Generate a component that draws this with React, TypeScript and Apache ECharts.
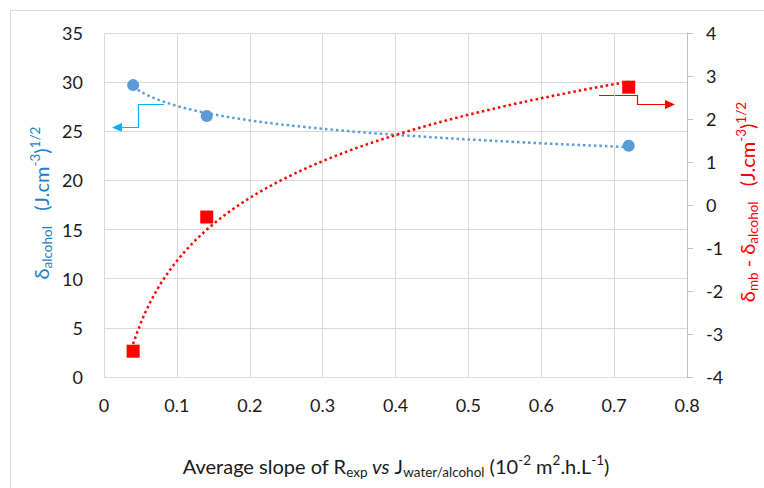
import React, { useEffect, useRef } from "react";
import * as echarts from "echarts";

const slopes = [0.04, 0.141, 0.72];
const deltaAlcohol = [29.7, 26.55, 23.53];
const deltaDiff = [-3.4, -0.28, 2.74];
const xTicks = { min: 0, max: 0.8, interval: 0.1 };
const yLeftTicks = { min: 0, max: 35, interval: 5 };
const yRightTicks = { min: -4, max: 4, interval: 1 };

// logarithmic trendline (least squares on ln x), as in the original spreadsheet
function logFit(xs: number[], ys: number[]) {
  const lx = xs.map((v) => Math.log(v));
  const mx = lx.reduce((a, b) => a + b, 0) / lx.length;
  const my = ys.reduce((a, b) => a + b, 0) / ys.length;
  let sxy = 0, sxx = 0;
  lx.forEach((v, i) => { sxy += (v - mx) * (ys[i] - my); sxx += (v - mx) * (v - mx); });
  const b = sxy / sxx;
  const a = my - b * mx;
  const x0 = Math.min(...xs), x1 = Math.max(...xs);
  const pts: number[][] = [];
  const n = 120;
  for (let i = 0; i <= n; i++) {
    const x = x0 + ((x1 - x0) * i) / n;
    pts.push([x, a + b * Math.log(x)]);
  }
  return pts;
}

const FONT = "Lato, 'Open Sans', sans-serif";

export default function App() {
  const ref = useRef<HTMLDivElement>(null);
  useEffect(() => {
    const chart = echarts.init(ref.current!, null, { renderer: "svg" });
    const blue = "#5B9BD5";
    const red = "#FF0000";
    const titleBlue = "#1E80C8";
    const grid = "#D9D9D9";
    const axisLabel = { color: "#1a1a1a", fontSize: 18, fontFamily: FONT };
    const richBase = (color: string, size: number, subSize: number) => ({
      d: { fontSize: size, fontFamily: FONT, fill: color, lineHeight: 26, verticalAlign: "middle" },
      sub: { fontSize: subSize, fontFamily: FONT, fill: color, lineHeight: 26, verticalAlign: "bottom" },
      sup: { fontSize: subSize, fontFamily: FONT, fill: color, lineHeight: 26, verticalAlign: "top" },
    });
    chart.setOption({
      animation: false,
      backgroundColor: "#ffffff",
      grid: { left: 104, right: 77, top: 33, bottom: 111, containLabel: false },
      xAxis: {
        type: "value",
        min: xTicks.min,
        max: xTicks.max,
        interval: xTicks.interval,
        axisLine: { show: true, lineStyle: { color: grid } },
        axisTick: { show: false },
        axisLabel: { ...axisLabel, margin: 19 },
        splitLine: { show: true, lineStyle: { color: grid } },
      },
      yAxis: [
        {
          type: "value",
          min: yLeftTicks.min,
          max: yLeftTicks.max,
          interval: yLeftTicks.interval,
          axisLine: { show: false },
          axisTick: { show: false },
          axisLabel: { ...axisLabel, margin: 21 },
          splitLine: { show: true, lineStyle: { color: grid } },
        },
        {
          type: "value",
          position: "right",
          min: yRightTicks.min,
          max: yRightTicks.max,
          interval: yRightTicks.interval,
          axisLine: { show: true, lineStyle: { color: "#BFBFBF" } },
          axisTick: { show: true, length: 6, lineStyle: { color: "#BFBFBF" } },
          axisLabel: { ...axisLabel, margin: 19 },
          splitLine: { show: false },
        },
      ],
      series: [
        {
          type: "line",
          yAxisIndex: 0,
          data: logFit(slopes, deltaAlcohol),
          showSymbol: false,
          symbol: "none",
          lineStyle: { color: blue, width: 2.5, type: [2.5, 3] },
          z: 2,
        },
        {
          type: "line",
          yAxisIndex: 1,
          data: logFit(slopes, deltaDiff),
          showSymbol: false,
          symbol: "none",
          lineStyle: { color: red, width: 2.5, type: [2.5, 3] },
          z: 2,
        },
        {
          type: "scatter",
          yAxisIndex: 0,
          data: slopes.map((x, i) => [x, deltaAlcohol[i]]),
          symbol: "circle",
          symbolSize: 12,
          itemStyle: { color: blue, opacity: 1 },
          z: 3,
        },
        {
          type: "scatter",
          yAxisIndex: 1,
          data: slopes.map((x, i) => [x, deltaDiff[i]]),
          symbol: "rect",
          symbolSize: 13,
          itemStyle: { color: red, opacity: 1 },
          z: 3,
        },
      ],
      graphic: [
        {
          type: "rect",
          shape: { x: 10.5, y: 10.5, width: 900, height: 700 },
          style: { fill: "none", stroke: "#D9D9D9", lineWidth: 1 },
          silent: true,
          z: -10,
        },
        // left axis title
        {
          type: "text",
          x: 41,
          y: 203,
          rotation: Math.PI / 2,
          style: {
            text: "{d|δ}{sub|alcohol}{d|   (J.cm}{sup|-3}{d|)}{sup|1/2}",
            rich: richBase(titleBlue, 20, 13.5),
            align: "center",
            verticalAlign: "middle",
          },
        },
        // right axis title
        {
          type: "text",
          x: 747,
          y: 202,
          rotation: Math.PI / 2,
          style: {
            text: "{d|δ}{sub|mb}{d| - δ}{sub|alcohol}{d|   (J.cm}{sup|-3}{d|)}{sup|1/2}",
            rich: richBase(red, 20, 13.5),
            align: "center",
            verticalAlign: "middle",
          },
        },
        // x axis title
        {
          type: "text",
          x: 396,
          y: 466,
          style: {
            text: "{d|Average slope of R}{sub|exp}{i| vs}{d| J}{sub|water/alcohol}{d| (10}{sup|-2}{d| m}{sup|2}{d|.h.L}{sup|-1}{d|)}",
            rich: {
              ...richBase("#1a1a1a", 20, 13.5),
              i: { fontSize: 20, fontFamily: FONT, fontStyle: "italic", fill: "#1a1a1a", lineHeight: 26, verticalAlign: "middle" },
            },
            align: "center",
            verticalAlign: "middle",
          },
        },
        // blue arrow
        {
          type: "polyline",
          shape: { points: [[164, 104.5], [138.5, 104.5], [138.5, 127.5], [120, 127.5]] },
          style: { stroke: "#00B0F0", lineWidth: 1.2, fill: "none" },
        },
        {
          type: "polygon",
          shape: { points: [[112, 127.5], [122, 123], [122, 132]] },
          style: { fill: "#00B0F0" },
        },
        // red arrow
        {
          type: "polyline",
          shape: { points: [[599, 95.5], [637.5, 95.5], [637.5, 104.5], [667, 104.5]] },
          style: { stroke: red, lineWidth: 1.2, fill: "none" },
        },
        {
          type: "polygon",
          shape: { points: [[675, 104.5], [665, 100], [665, 109]] },
          style: { fill: red },
        },
      ],
    });
    return () => chart.dispose();
  }, []);
  return (
    <div
      ref={ref}
      style={{ position: "fixed", left: 0, top: 0, width: 764, height: 488, background: "#fff" }}
    />
  );
}
